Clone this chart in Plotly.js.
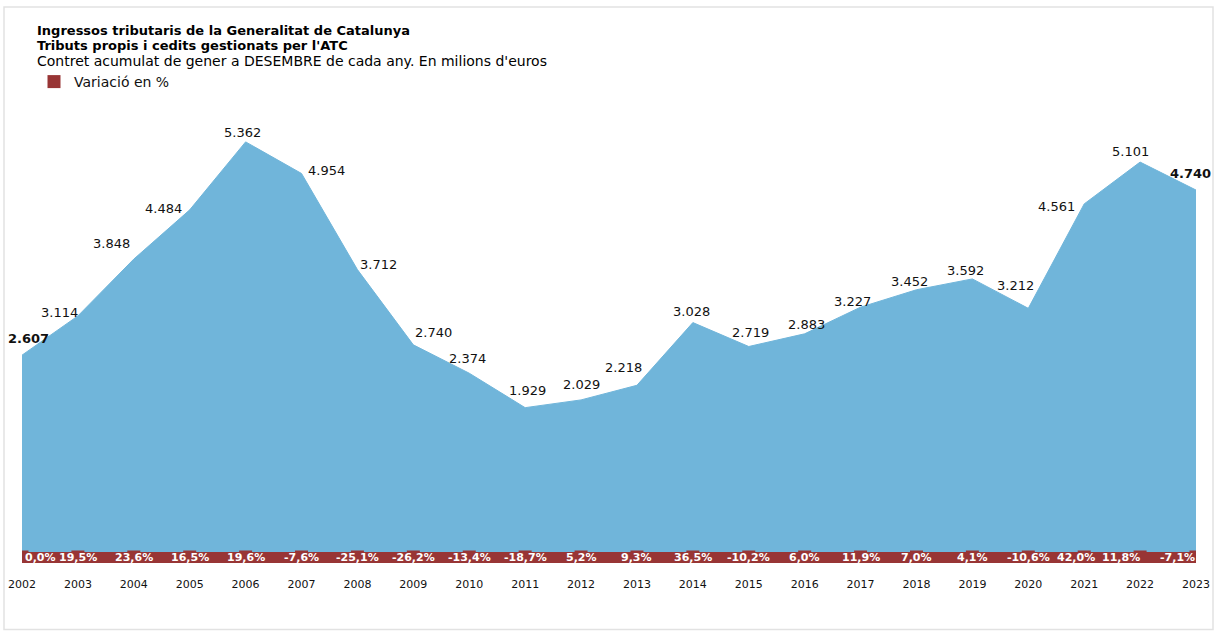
<!DOCTYPE html>
<html>
<head>
<meta charset="utf-8">
<script src="https://cdn.plot.ly/plotly-3.0.1.min.js"></script>
<style>html,body{margin:0;padding:0;background:#fff;}#chart{width:1220px;height:638px;}</style>
</head>
<body>
<div id="chart"></div>
<script>
const years = [2002,2003,2004,2005,2006,2007,2008,2009,2010,2011,2012,2013,2014,2015,2016,2017,2018,2019,2020,2021,2022,2023];
const revenue = [2607,3114,3848,4484,5362,4954,3712,2740,2374,1929,2029,2218,3028,2719,2883,3227,3452,3592,3212,4561,5101,4740];
const variation = [0.0,19.5,23.6,16.5,19.6,-7.6,-25.1,-26.2,-13.4,-18.7,5.2,9.3,36.5,-10.2,6.0,11.9,7.0,4.1,-10.6,42.0,11.8,-7.1];

// label styling offsets (pixels), kept apart from the data
const labelDX = [6,-18,-22,-26,-3,25,21,20,-2,2,0,-13,-1,2,2,-8,-7,-7,-13,-28,-10,-6];
const labelDY = [17,3,16,1,9,3,5,12,15,17,15,18,11,14,9,6,8,8,23,-3,11,17];
const pctDX = [18,0,0,0,0,0,0,0,0,0,0,0,0,0,0,0,0,0,0,-8,-19,-19];

const BLUE = '#70b5da';
const RED = '#983535';
const FONT = 'DejaVu Sans, Verdana, sans-serif';

function fmtThousands(v){
  const s = String(Math.round(v));
  return s.replace(/\B(?=(\d{3})+(?!\d))/g, '.');
}
function fmtPct(v){
  return v.toFixed(1).replace('.', ',') + '%';
}
const valueText = revenue.map((v,i)=> (i===0 || i===revenue.length-1) ? '<b>'+fmtThousands(v)+'</b>' : fmtThousands(v));
const pctText = variation.map(fmtPct);

const traces = [
  {
    x: years, y: revenue, type: 'scatter', mode: 'lines',
    fill: 'tozeroy', fillcolor: BLUE, line: {color: BLUE, width: 1},
    hoverinfo: 'skip', showlegend: false
  },
  {
    x: years, y: years.map(()=>0), type: 'scatter', mode: 'markers',
    name: 'Variació en %',
    marker: {symbol: 'square', size: 13, color: RED},
    cliponaxis: true, hoverinfo: 'skip', showlegend: true
  }
];

const valueAnnotations = years.map((yr,i)=>({
  xref: 'x', yref: 'y', x: yr, y: revenue[i],
  xshift: labelDX[i], yshift: labelDY[i],
  xanchor: 'center', yanchor: 'middle', showarrow: false,
  text: valueText[i], borderpad: 0,
  font: {family: FONT, size: 13, color: '#111'}
}));

const pctAnnotations = years.map((yr,i)=>({
  xref: 'x', yref: 'y', x: yr, y: 0, xshift: pctDX[i], yshift: 0,
  xanchor: 'center', yanchor: 'middle', showarrow: false,
  text: '<b>'+pctText[i]+'</b>', borderpad: 0,
  font: {family: FONT, size: 11, color: '#ffffff'}
}));

const layout = {
  width: 1220, height: 638,
  margin: {l: 22, r: 24, t: 100, b: 80.5},
  paper_bgcolor: '#ffffff', plot_bgcolor: '#ffffff',
  font: {family: FONT, color: '#111'},
  xaxis: {
    range: [2002, 2023], tickmode: 'array', tickvals: years, ticktext: years.map(String),
    showgrid: false, zeroline: false, showline: false,
    ticks: 'outside', ticklen: 17, tickcolor: 'rgba(0,0,0,0)',
    tickfont: {family: FONT, size: 11, color: '#111'}, fixedrange: true
  },
  yaxis: {range: [0, 5903], visible: false, fixedrange: true},
  showlegend: true,
  legend: {
    orientation: 'h', xref: 'container', yref: 'container',
    x: 34/1220, y: 1 - 66/638, xanchor: 'left', yanchor: 'top',
    font: {family: FONT, size: 14, color: '#111'}, bgcolor: 'rgba(0,0,0,0)'
  },
  shapes: [
    {type: 'rect', xref: 'x', yref: 'paper', ysizemode: 'pixel', yanchor: 0,
     x0: years[0], x1: years[years.length-1], y0: -6, y1: 5,
     fillcolor: RED, line: {width: 0}, layer: 'above'},
    {type: 'rect', xref: 'paper', yref: 'paper',
     x0: (4-22)/1174, x1: (1213-22)/1174, y0: (557.5-630)/457.5, y1: (557.5-7)/457.5,
     fillcolor: 'rgba(0,0,0,0)', line: {color: '#e2e2e2', width: 1.5}, layer: 'below'}
  ],
  annotations: [
    {xref: 'paper', yref: 'paper', x: (36-22)/1174, y: (557.5-30.5)/457.5, xanchor: 'left', yanchor: 'middle',
     text: '<b>Ingressos tributaris de la Generalitat de Catalunya</b>', showarrow: false,
     font: {family: FONT, size: 13, color: '#000'}, borderpad: 0},
    {xref: 'paper', yref: 'paper', x: (36-22)/1174, y: (557.5-45.5)/457.5, xanchor: 'left', yanchor: 'middle',
     text: "<b>Tributs propis i cedits gestionats per l'ATC</b>", showarrow: false,
     font: {family: FONT, size: 13, color: '#000'}, borderpad: 0},
    {xref: 'paper', yref: 'paper', x: (36-22)/1174, y: (557.5-60.5)/457.5, xanchor: 'left', yanchor: 'middle',
     text: "Contret acumulat de gener a DESEMBRE de cada any. En milions d'euros", showarrow: false,
     font: {family: FONT, size: 14, color: '#000'}, borderpad: 0}
  ].concat(valueAnnotations, pctAnnotations)
};

Plotly.newPlot('chart', traces, layout, {displayModeBar: false, staticPlot: true});
</script>
</body>
</html>
